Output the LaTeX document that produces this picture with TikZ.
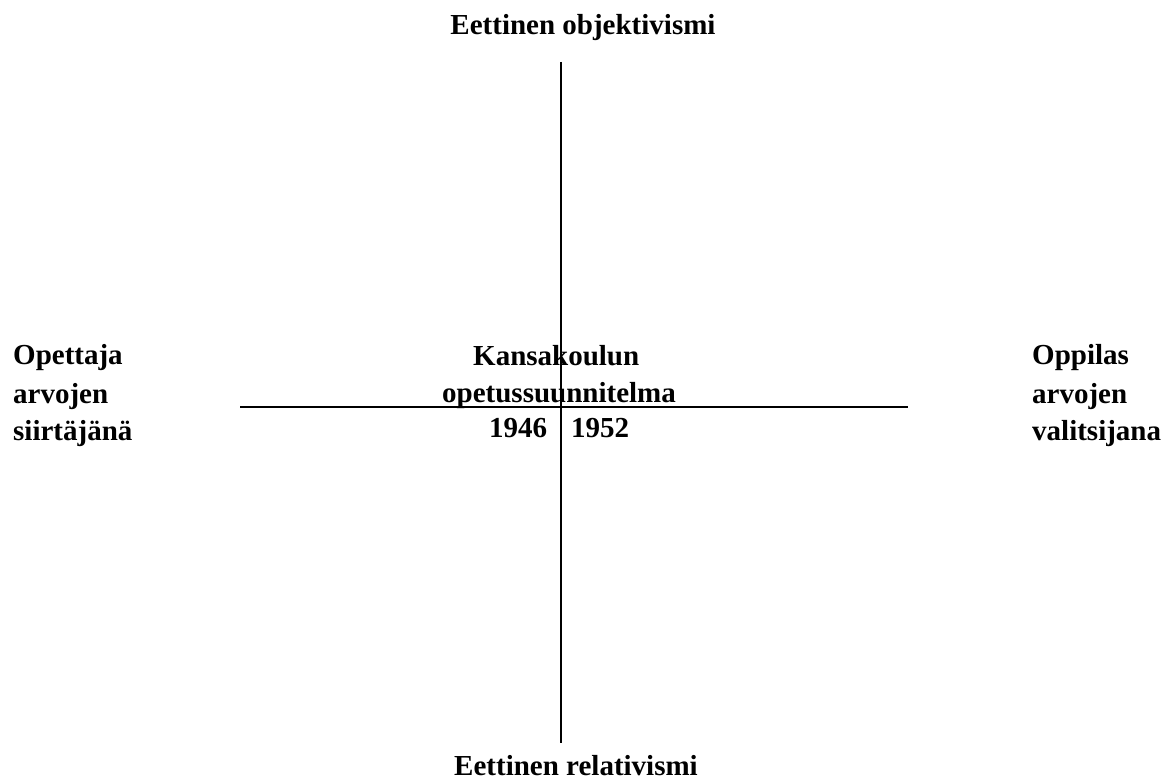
\documentclass[tikz,border=0pt]{standalone}
\usepackage{fontspec}
\setmainfont{Liberation Serif}
\begin{document}
\begin{tikzpicture}[x=1pt,y=-1pt,
  lbl/.style={font=\bfseries\fontsize{29}{29}\selectfont, inner sep=0pt, anchor=base west},
  ttl/.style={font=\bfseries\fontsize{29}{29}\selectfont, inner sep=0pt, anchor=base},
  axis/.style={line width=2.4pt}]
\useasboundingbox (0,0) rectangle (1165,784);
% axis end points
\coordinate (vtop) at (561,62);
\coordinate (vbot) at (561,743);
\coordinate (hleft) at (240,407);
\coordinate (hright) at (908,407);
\draw[axis] (vtop) -- (vbot);
\draw[axis] (hleft) -- (hright);
% pole titles
\node[ttl] (obj) at (583,35) {Eettinen objektivismi};
\node[ttl] (rel) at (576,775) {Eettinen relativismi};
% left pole
\node[lbl] (l1) at (13,364) {Opettaja};
\node[lbl] (l2) at (13,403) {arvojen};
\node[lbl] (l3) at (13,440) {siirtäjänä};
% right pole
\node[lbl] (r1) at (1032,364) {Oppilas};
\node[lbl] (r2) at (1032,403) {arvojen};
\node[lbl] (r3) at (1032,440) {valitsijana};
% curriculum in the centre
\node[lbl] (c1) at (473,365) {Kansakoulun};
\node[lbl] (c2) at (442,402) {opetussuunnitelma};
\node[lbl] (c3) at (489,437) {1946};
\node[lbl] (c4) at (571,437) {1952};
\end{tikzpicture}
\end{document}
